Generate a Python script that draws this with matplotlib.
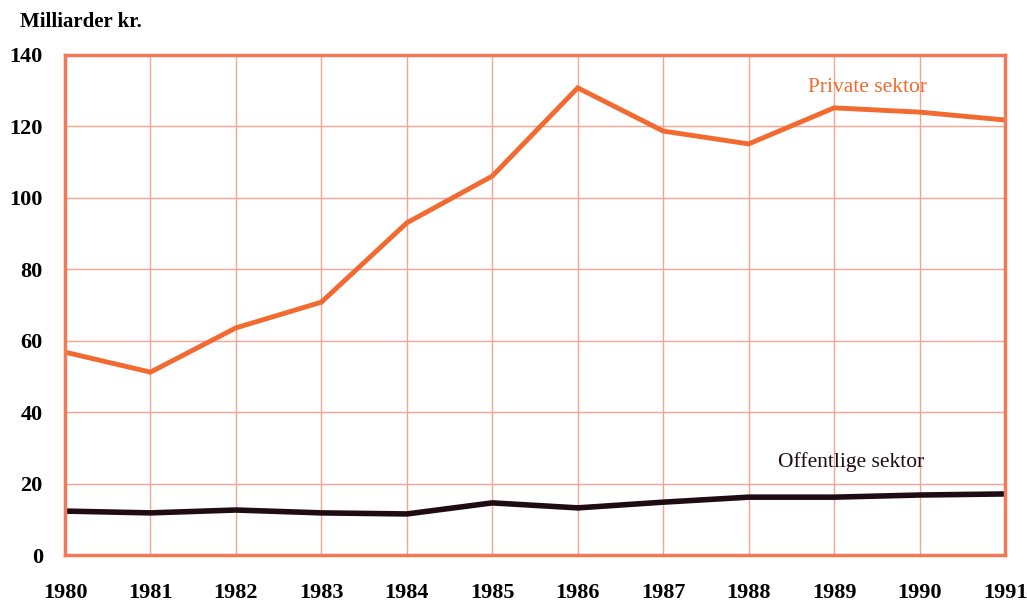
import matplotlib
matplotlib.use('Agg')
import matplotlib.pyplot as plt

years = [1980, 1981, 1982, 1983, 1984, 1985, 1986, 1987, 1988, 1989, 1990, 1991]
private = [56.8, 51.2, 63.6, 70.8, 93.0, 106.1, 130.8, 118.7, 115.1, 125.2, 124.0, 121.8]
public = [12.3, 11.8, 12.6, 11.8, 11.5, 14.6, 13.2, 14.8, 16.2, 16.2, 16.8, 17.1]

plt.rcParams['font.family'] = ['Liberation Serif', 'DejaVu Serif']

fig = plt.figure(figsize=(10.27, 6.01), dpi=100)
ax = fig.add_axes([0.0633, 0.0765, 0.9153, 0.832])

ax.plot(years, private, color='#f26a30', lw=3.5, solid_joinstyle='miter')
ax.plot(years, public, color='#1e0c12', lw=4)

ax.set_xlim(1980, 1991)
ax.set_ylim(0, 140)
ax.set_xticks(years)
ax.set_yticks(range(0, 141, 20))
ax.grid(True, color='#f5a593', lw=1)
ax.set_axisbelow(True)
for s in ax.spines.values():
    s.set_color('#f07a58')
    s.set_linewidth(2.5)
ax.tick_params(length=0, labelsize=16, colors='black')
ax.tick_params(axis='x', pad=20)
ax.tick_params(axis='y', pad=16)
for lab in ax.get_xticklabels() + ax.get_yticklabels():
    lab.set_fontweight('bold')

fig.text(0.019, 0.963, 'Milliarder kr.', fontsize=15, fontweight='bold', va='center')
ax.text(1988.70, 130.8, 'Private sektor', color='#f26a30', fontsize=15.5, va='center')
ax.text(1988.34, 26, 'Offentlige sektor', color='#1e0c12', fontsize=15.5, va='center')

fig.savefig('out.png', dpi=100)
